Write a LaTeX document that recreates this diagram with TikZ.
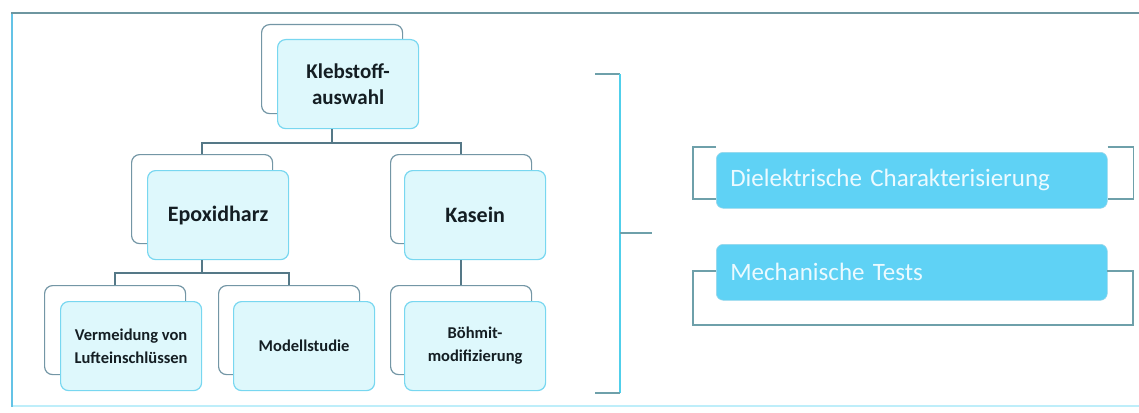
\documentclass[tikz,border=0pt]{standalone}
\usepackage{fontspec}
\setmainfont{Carlito}
\definecolor{backc}{RGB}{115,150,165}
\definecolor{frontc}{RGB}{120,215,240}
\definecolor{frontfill}{RGB}{222,248,252}
\definecolor{connc}{RGB}{85,120,135}
\definecolor{bluefill}{RGB}{95,210,245}
\definecolor{textwhite}{RGB}{235,250,255}
\definecolor{brkc}{RGB}{110,160,170}
\definecolor{framec}{RGB}{110,150,160}
\definecolor{frameleft}{RGB}{100,195,230}
\definecolor{framebot}{RGB}{190,238,250}
\definecolor{darktext}{RGB}{20,30,35}
\begin{document}
\begin{tikzpicture}[x=1pt,y=-1pt,
  backbox/.style={draw=backc, line width=1.2pt, rounded corners=8pt, fill=white,
    minimum width=141pt, minimum height=89pt, inner sep=0pt, anchor=north west},
  frontbox/.style={draw=frontc, line width=1.2pt, rounded corners=8pt, fill=frontfill,
    minimum width=141pt, minimum height=89pt, inner sep=2pt, anchor=north west,
    align=center, text=darktext},
  conn/.style={draw=connc, line width=1.3pt},
  bluebox/.style={fill=bluefill, draw=bluefill!90!black!60!white, line width=0.6pt, rounded corners=7pt,
    minimum height=56pt, text width=363pt, inner xsep=14pt, inner ysep=0pt,
    align=left, anchor=north west, text=textwhite, font=\fontsize{25}{28}\selectfont},
  brk/.style={draw=brkc, line width=1.2pt},
  lbl/.style={font=\bfseries\fontsize{16.5}{23}\selectfont},
  mid/.style={font=\bfseries\fontsize{22}{26}\selectfont},
  top/.style={font=\bfseries\fontsize{21}{26}\selectfont}
]
\useasboundingbox (0,0) rectangle (1139,412);
% frame
\draw[draw=framebot, line width=1.2pt] (12,406) -- (1139,406);
\draw[draw=frameleft, line width=1.6pt] (12,13) -- (12,407);
\draw[draw=framec, line width=1.6pt] (11.2,13) -- (1139,13);

% back boxes
\node[backbox] (kbb) at (261,24) {};
\node[backbox] (epb) at (131,154) {};
\node[backbox] (kab) at (390,154) {};
\node[backbox] (veb) at (44,285) {};
\node[backbox] (mob) at (218,285) {};
\node[backbox] (bob) at (390,285) {};

% bus coordinates
\coordinate (bus1) at (0,143);
\coordinate (bus2) at (0,273);

% front boxes
\node[frontbox, top] (kbf) at (277,39) {Klebstoff-\\auswahl};
\node[frontbox, mid] (epf) at (147,170) {Epoxidharz};
\node[frontbox, mid] (kaf) at (404,170) {Kasein};
\node[frontbox, lbl] (vef) at (60,301) {Vermeidung von\\Lufteinschlüssen};
\node[frontbox, lbl] (mof) at (233,301) {Modellstudie};
\node[frontbox, lbl] (bof) at (404,301) {Böhmit-\\modifizierung};

% connectors
\draw[conn] (kbf.south -| kbb.center) -- (bus1 -| kbb.center);
\draw[conn] (epb.north) -- (epb.north |- bus1) -- (kab.north |- bus1) -- (kab.north);
\draw[conn] (epf.south -| epb.center) -- (bus2 -| epb.center);
\draw[conn] (veb.north) -- (veb.north |- bus2) -- (mob.north |- bus2) -- (mob.north);
\draw[conn] (kaf.south -| kab.center) -- (bob.north);

% big bracket
\draw[draw=brkc, line width=1.3pt] (595,74) -- (620,74);
\draw[draw=frameleft!80!cyan, line width=1.4pt] (620,74) -- (620,393);
\draw[draw=brkc, line width=1.3pt] (620,393) -- (595,393);
\draw[draw=brkc, line width=1.3pt] (620,233) -- (652,233);

% right boxes
\node[bluebox] (die) at (716,152) {Dielektrische Charakterisierung};
\node[bluebox] (mech) at (716,244) {Mechanische Tests};

% brackets behind the right boxes
\draw[brk] ([shift={(0,-5)}]die.north west) -- ++(-23,0) -- ++(0,52) -- ++(23,0);
\draw[brk] ([shift={(0,-5)}]die.north east) -- ++(26,0) -- ++(0,52) -- ++(-26,0);
\draw[brk] ([shift={(0,27)}]mech.north west) -- ++(-23,0) -- ++(0,54) -- ++(440,0) -- ++(0,-54) -- ++(-26,0);
\end{tikzpicture}
\end{document}
